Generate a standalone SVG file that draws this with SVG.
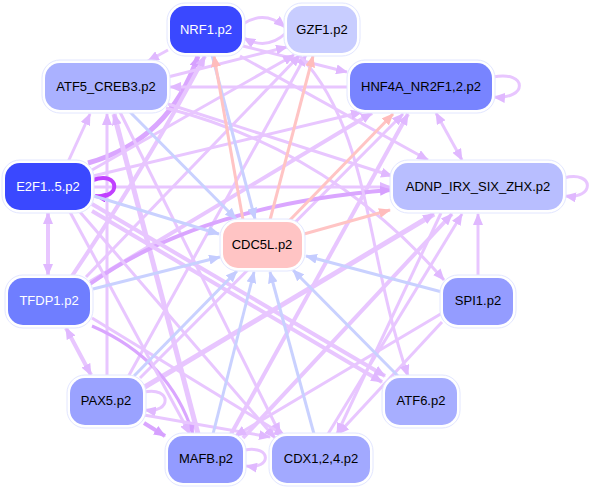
<svg xmlns="http://www.w3.org/2000/svg" width="593" height="489" viewBox="0 0 593 489">
<style>
.e{fill:none;stroke-linecap:butt}
.lav{stroke:#e8c6ff;stroke-width:3;marker-end:url(#aLav)}
.pur{stroke:#daa6ff;stroke-width:3;marker-end:url(#aPur)}
.blu{stroke:#c9d1ff;stroke-width:3;marker-end:url(#aBlu)}
.pnk{stroke:#ffc4c4;stroke-width:3;marker-end:url(#aPnk)}
.vio{stroke:#c040ff;stroke-width:4;marker-end:url(#aVio)}
.bi{marker-start:url(#aLavS)}
.w4{stroke-width:4}
.w5{stroke-width:5}
.halo{fill:#fff;stroke:#e2e6ff;stroke-width:1}
.n text{font-family:"Liberation Sans",Arial,Helvetica,sans-serif;font-size:13px;text-anchor:middle;fill:#000}
.n text.wt{fill:#fff}
</style>
<defs>
<marker id="aLav" viewBox="0 0 12 10" refX="11" refY="5" markerWidth="12" markerHeight="10" markerUnits="userSpaceOnUse" orient="auto"><path d="M0,0 L12,5 L0,10 z" fill="#e0b8ff"/></marker>
<marker id="aLavS" viewBox="0 0 12 10" refX="11" refY="5" markerWidth="12" markerHeight="10" markerUnits="userSpaceOnUse" orient="auto-start-reverse"><path d="M0,0 L12,5 L0,10 z" fill="#e0b8ff"/></marker>
<marker id="aPur" viewBox="0 0 12 10" refX="11" refY="5" markerWidth="12" markerHeight="10" markerUnits="userSpaceOnUse" orient="auto"><path d="M0,0 L12,5 L0,10 z" fill="#d6a0ff"/></marker>
<marker id="aBlu" viewBox="0 0 12 10" refX="11" refY="5" markerWidth="12" markerHeight="10" markerUnits="userSpaceOnUse" orient="auto"><path d="M0,0 L12,5 L0,10 z" fill="#c4ccff"/></marker>
<marker id="aPnk" viewBox="0 0 12 10" refX="11" refY="5" markerWidth="12" markerHeight="10" markerUnits="userSpaceOnUse" orient="auto"><path d="M0,0 L12,5 L0,10 z" fill="#ffbcbc"/></marker>
<marker id="aVio" viewBox="0 0 12 10" refX="11" refY="5" markerWidth="12" markerHeight="10" markerUnits="userSpaceOnUse" orient="auto"><path d="M0,0 L12,5 L0,10 z" fill="#c040ff"/></marker>
</defs>
<rect width="593" height="489" fill="#fff"/>
<g id="edges">
<path class="e lav" d="M243,24 C258,14 272,16 285,27"/>
<path class="e lav" d="M286,33 C272,46 258,46 244,38"/>
<path class="e lav" d="M168,50 L148,61"/>
<path class="e lav" d="M243,46 L347,72"/>
<path class="e lav" d="M240,56 L428,160"/>
<path class="e pur w5" d="M88,163 Q170,140 198,56"/>
<path class="e lav w4" d="M72,276 Q150,160 205,56"/>
<path class="e lav" d="M168,77 L287,47"/>
<path class="e lav" d="M348,87 L170,87"/>
<path class="e lav" d="M168,104 L392,176"/>
<path class="e lav" d="M166,108 Q330,150 444,280"/>
<path class="e lav" d="M68,162 L90,114"/>
<path class="e lav" d="M107,376 L107,114"/>
<path class="e lav w5" d="M198,434 L114,114"/>
<path class="e lav" d="M120,112 L280,434"/>
<path class="e lav" d="M92,170 L294,55"/>
<path class="e lav" d="M86,277 L300,55"/>
<path class="e lav" d="M128,377 L306,55"/>
<path class="e lav" d="M93,176 L362,112"/>
<path class="e lav w4" d="M90,282 L372,113"/>
<path class="e lav" d="M140,378 L403,114"/>
<path class="e lav w4" d="M230,436 L408,114"/>
<path class="e lav bi" d="M436,113 L462,160"/>
<path class="e lav" d="M493,77 C528,70 528,100 494,97"/>
<path class="e lav" d="M564,178 C595,170 595,200 565,196"/>
<path class="e lav" d="M94,187 L391,187"/>
<path class="e pur w4" d="M90,284 Q200,205 391,190"/>
<path class="e lav w5" d="M143,388 L434,214"/>
<path class="e lav w4" d="M243,438 L452,214"/>
<path class="e lav" d="M328,434 L462,214"/>
<path class="e lav" d="M478,276 L478,214"/>
<path class="e lav w4 bi" d="M48,213 L48,275"/>
<path class="e lav w4 bi" d="M66,328 L91,375"/>
<path class="e lav" d="M144,392 C172,386 172,414 145,410"/>
<path class="e pur w4" d="M144,423 L165,436"/>
<path class="e lav" d="M245,450 C272,445 272,470 246,466"/>
<path class="e pur" d="M92,326 Q170,360 193,434"/>
<path class="e lav" d="M70,212 L190,434"/>
<path class="e lav" d="M80,212 L275,438"/>
<path class="e lav" d="M144,415 L270,437"/>
<path class="e lav" d="M92,318 L285,436"/>
<path class="e lav" d="M442,322 L338,434"/>
<path class="e lav" d="M441,213 L337,434"/>
<path class="e lav w4" d="M92,204 L385,376"/>
<path class="e lav w4" d="M92,211 L382,382"/>
<path class="e lav" d="M300,56 C370,130 365,250 408,376"/>
<path class="e lav" d="M444,312 L235,436"/>
<path class="e vio" d="M93,180 C120,170 122,200 95,196"/>
<path class="e blu" d="M212,55 L255,219"/>
<path class="e blu" d="M130,112 L236,219"/>
<path class="e blu" d="M94,196 L219,234"/>
<path class="e blu" d="M93,289 L220,257"/>
<path class="e blu" d="M134,376 L237,271"/>
<path class="e blu" d="M213,434 L254,272"/>
<path class="e blu" d="M314,434 L270,272"/>
<path class="e blu" d="M398,376 L293,270"/>
<path class="e blu" d="M442,292 L306,256"/>
<path class="e pnk" d="M243,220 L214,56"/>
<path class="e pnk" d="M270,220 L313,56"/>
<path class="e pnk" d="M288,222 L393,114"/>
<path class="e pnk" d="M304,234 L390,210"/>
</g>
<g id="NRF1" class="n"><rect class="halo" x="167" y="3" width="78" height="53" rx="18"/><rect x="170" y="6" width="72" height="47" rx="15" fill="#3a48ff"/><text class="wt" x="206" y="34">NRF1.p2</text></g>
<g id="GZF1" class="n"><rect class="halo" x="284" y="3" width="76" height="53" rx="18"/><rect x="287" y="6" width="70" height="47" rx="15" fill="#c8cdff"/><text x="322" y="34">GZF1.p2</text></g>
<g id="ATF5_CREB3" class="n"><rect class="halo" x="42" y="60" width="128" height="53" rx="18"/><rect x="45" y="63" width="122" height="47" rx="15" fill="#aab1ff"/><text x="106" y="91">ATF5_CREB3.p2</text></g>
<g id="HNF4A" class="n"><rect class="halo" x="347" y="60" width="148" height="53" rx="18"/><rect x="350" y="63" width="142" height="47" rx="15" fill="#7884ff"/><text x="421" y="91">HNF4A_NR2F1,2.p2</text></g>
<g id="E2F1" class="n"><rect class="halo" x="2" y="160" width="92" height="53" rx="18"/><rect x="5" y="163" width="86" height="47" rx="15" fill="#3a48ff"/><text class="wt" x="48" y="191">E2F1..5.p2</text></g>
<g id="ADNP" class="n"><rect class="halo" x="390" y="160" width="176" height="53" rx="18"/><rect x="393" y="163" width="170" height="47" rx="15" fill="#b8beff"/><text x="478" y="191">ADNP_IRX_SIX_ZHX.p2</text></g>
<g id="CDC5L" class="n"><rect class="halo" x="220" y="219" width="85" height="52" rx="18" stroke="#ffe4e4"/><rect x="223" y="222" width="79" height="46" rx="15" fill="#ffc4c4"/><text x="262" y="249">CDC5L.p2</text></g>
<g id="TFDP1" class="n"><rect class="halo" x="5" y="275" width="88" height="53" rx="18"/><rect x="8" y="278" width="82" height="47" rx="15" fill="#6f7eff"/><text class="wt" x="49" y="305">TFDP1.p2</text></g>
<g id="SPI1" class="n"><rect class="halo" x="440" y="275" width="76" height="53" rx="18"/><rect x="443" y="278" width="70" height="47" rx="15" fill="#949cff"/><text x="478" y="305">SPI1.p2</text></g>
<g id="PAX5" class="n"><rect class="halo" x="67" y="375" width="79" height="53" rx="18"/><rect x="70" y="378" width="73" height="47" rx="15" fill="#9aa2ff"/><text x="106" y="405">PAX5.p2</text></g>
<g id="ATF6" class="n"><rect class="halo" x="382" y="375" width="78" height="53" rx="18"/><rect x="385" y="378" width="72" height="47" rx="15" fill="#a7aeff"/><text x="421" y="405">ATF6.p2</text></g>
<g id="MAFB" class="n"><rect class="halo" x="165" y="433" width="81" height="53" rx="18"/><rect x="168" y="436" width="75" height="47" rx="15" fill="#939bff"/><text x="206" y="463">MAFB.p2</text></g>
<g id="CDX" class="n"><rect class="halo" x="269" y="433" width="104" height="53" rx="18"/><rect x="272" y="436" width="98" height="47" rx="15" fill="#a2a9ff"/><text x="321" y="463">CDX1,2,4.p2</text></g>
</svg>
